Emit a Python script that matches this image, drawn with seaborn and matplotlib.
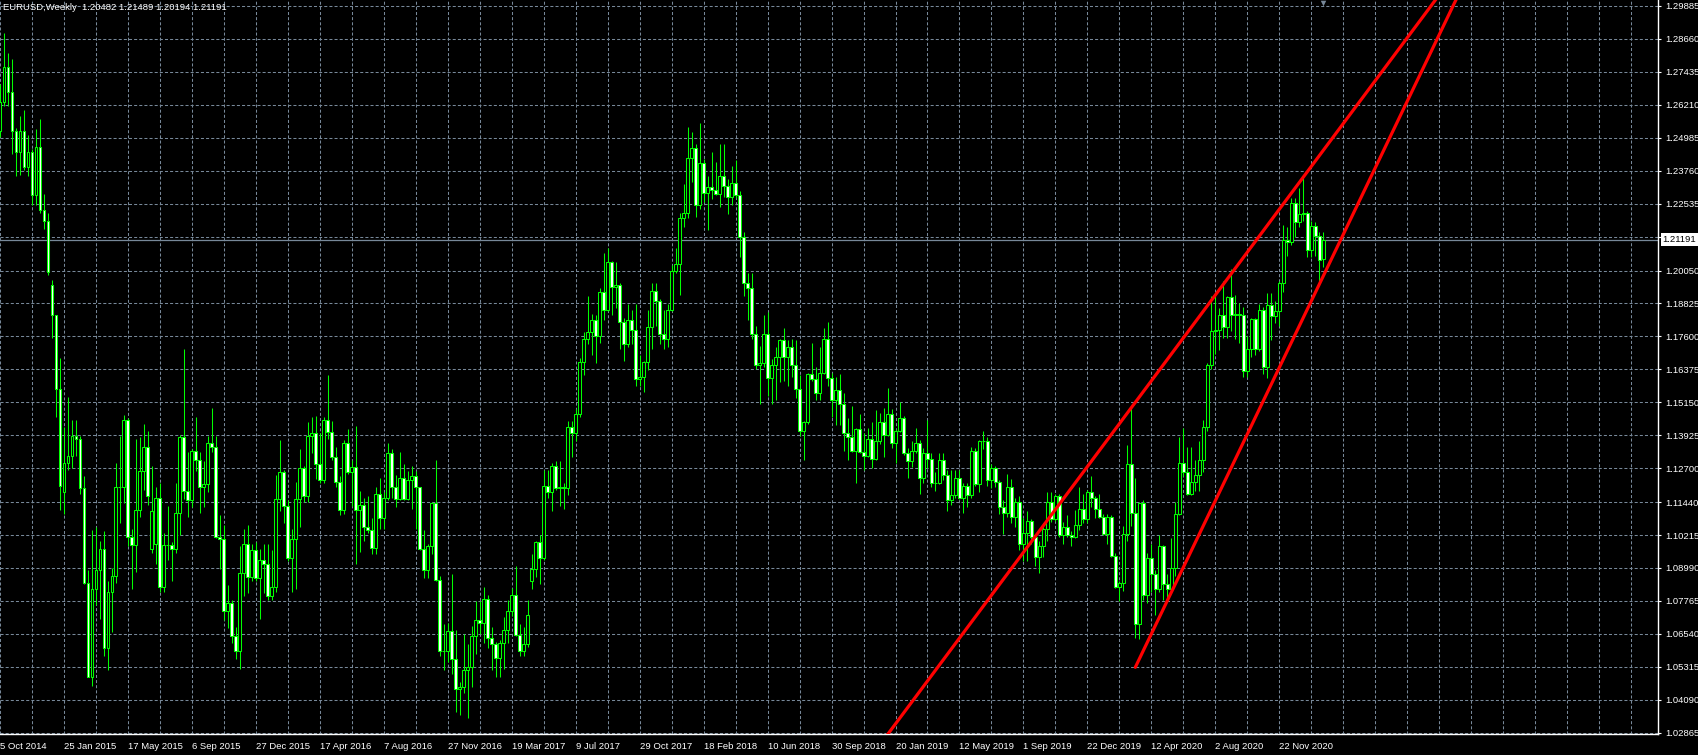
import numpy as np
import pandas as pd
import matplotlib
matplotlib.use("Agg")
import matplotlib.pyplot as plt
import matplotlib.transforms as mtransforms
import seaborn as sns

# EURUSD weekly bars, bar 0 = week of 5 Oct 2014, last bar = week of 7 Feb 2021
chart_title = "EURUSD,Weekly  1.20482 1.21489 1.20194 1.21191"

opens = [
    1.2525, 1.2630, 1.2760, 1.2670, 1.2525, 1.2445, 1.2525, 1.2390, 1.2445, 1.2285,
    1.2465, 1.2230, 1.2190, 1.1950, 1.1840, 1.1565, 1.1180, 1.1290, 1.1315, 1.1390,
    1.1380, 1.1195, 1.0845, 1.0495, 1.0820, 1.0890, 1.0970, 1.0600, 1.0810, 1.0870,
    1.1200, 1.1200, 1.1450, 1.1015, 1.0985, 1.1115, 1.1260, 1.1350, 1.0970, 1.0990,
    1.1160, 1.0830, 1.0985, 1.0985, 1.0970, 1.1105, 1.1385, 1.1185, 1.1150, 1.1335,
    1.1300, 1.1200, 1.1210, 1.1365, 1.1350, 1.1015, 1.1005, 1.0740, 1.0770, 1.0645,
    1.0590, 1.0880, 1.0990, 1.0865, 1.0965, 1.0860, 1.0930, 1.0915, 1.0795, 1.0830,
    1.1155, 1.1255, 1.1130, 1.0935, 1.1005, 1.1155, 1.1270, 1.1165, 1.1390, 1.1400,
    1.1285, 1.1225, 1.1450, 1.1405, 1.1310, 1.1220, 1.1115, 1.1365, 1.1255, 1.1275,
    1.1115, 1.1135, 1.1050, 1.1040, 1.0975, 1.1175, 1.1085, 1.1160, 1.1325, 1.1200,
    1.1155, 1.1235, 1.1155, 1.1225, 1.1240, 1.1200, 1.0970, 1.0890, 1.0980, 1.1140,
    1.0855, 1.0590, 1.0590, 1.0665, 1.0560, 1.0450, 1.0455, 1.0520, 1.0530, 1.0645,
    1.0705, 1.0695, 1.0785, 1.0640, 1.0615, 1.0565, 1.0620, 1.0670, 1.0740, 1.0800,
    1.0650, 1.0590, 1.0615, 1.0850, 1.0895, 1.0995, 1.0935, 1.1205, 1.1180, 1.1280,
    1.1195, 1.1200, 1.1195, 1.1425, 1.1400, 1.1470, 1.1665, 1.1750, 1.1775, 1.1820,
    1.1760, 1.1925, 1.1860, 1.2035, 1.1945, 1.1950, 1.1815, 1.1730, 1.1820, 1.1785,
    1.1600, 1.1610, 1.1665, 1.1795, 1.1930, 1.1890, 1.1770, 1.1750, 1.1860, 1.2005,
    1.2030, 1.2200, 1.2220, 1.2425, 1.2460, 1.2250, 1.2405, 1.2295, 1.2315, 1.2305,
    1.2290, 1.2355, 1.2320, 1.2280, 1.2330, 1.2285, 1.2130, 1.1960, 1.1940, 1.1770,
    1.1655, 1.1660, 1.1770, 1.1605, 1.1655, 1.1685, 1.1745, 1.1685, 1.1720, 1.1655,
    1.1565, 1.1410, 1.1440, 1.1620, 1.1600, 1.1550, 1.1625, 1.1750, 1.1605, 1.1525,
    1.1560, 1.1510, 1.1400, 1.1385, 1.1335, 1.1415, 1.1330, 1.1315, 1.1380, 1.1305,
    1.1370, 1.1440, 1.1395, 1.1470, 1.1365, 1.1410, 1.1455, 1.1325, 1.1295, 1.1335,
    1.1365, 1.1235, 1.1325, 1.1305, 1.1215, 1.1215, 1.1300, 1.1245, 1.1150, 1.1170,
    1.1235, 1.1160, 1.1205, 1.1170, 1.1335, 1.1210, 1.1370, 1.1370, 1.1225, 1.1270,
    1.1220, 1.1125, 1.1105, 1.1200, 1.1090, 1.1145, 1.0990, 1.1030, 1.1075, 1.1015,
    1.0940, 1.0980, 1.1045, 1.1145, 1.1080, 1.1165, 1.1020, 1.1050, 1.1020, 1.1015,
    1.1060, 1.1120, 1.1080, 1.1180, 1.1160, 1.1120, 1.1090, 1.1025, 1.1090, 1.0945,
    1.0830, 1.0845, 1.1025, 1.1285, 1.1105, 1.0690, 1.1140, 1.0800, 1.0935, 1.0875,
    1.0820, 1.0980, 1.0840, 1.0820, 1.0900, 1.1100, 1.1290, 1.1255, 1.1175, 1.1220,
    1.1245, 1.1300, 1.1425, 1.1655, 1.1780, 1.1785, 1.1840, 1.1795, 1.1905, 1.1840,
    1.1845, 1.1840, 1.1630, 1.1715, 1.1825, 1.1715, 1.1860, 1.1645, 1.1875, 1.1835,
    1.1855, 1.1960, 1.2120, 1.2110, 1.2255, 1.2185, 1.2215, 1.2220, 1.2080, 1.2170,
    1.2135, 1.20482,
]

highs = [
    1.2700, 1.2887, 1.2812, 1.2790, 1.2535, 1.2578, 1.2601, 1.2510, 1.2456, 1.2530,
    1.2570, 1.2290, 1.2220, 1.1970, 1.1840, 1.1680, 1.1425, 1.1535, 1.1450, 1.1450,
    1.1390, 1.1240, 1.0890, 1.1040, 1.1050, 1.1000, 1.1035, 1.0850, 1.0900, 1.1290,
    1.1390, 1.1467, 1.1455, 1.1045, 1.1380, 1.1385, 1.1436, 1.1410, 1.1280, 1.1200,
    1.1215, 1.1030, 1.1130, 1.0995, 1.1215, 1.1395, 1.1714, 1.1330, 1.1340, 1.1460,
    1.1330, 1.1295, 1.1390, 1.1495, 1.1390, 1.1095, 1.1060, 1.0835, 1.0780, 1.0680,
    1.0981, 1.1045, 1.1060, 1.0990, 1.0995, 1.0970, 1.0990, 1.0990, 1.0965, 1.1245,
    1.1375, 1.1265, 1.1150, 1.1045, 1.1220, 1.1340, 1.1280, 1.1440, 1.1460, 1.1465,
    1.1400, 1.1460, 1.1615, 1.1445, 1.1350, 1.1240, 1.1375, 1.1415, 1.1300, 1.1428,
    1.1185, 1.1160, 1.1165, 1.1085, 1.1200, 1.1235, 1.1180, 1.1365, 1.1340, 1.1245,
    1.1330, 1.1285, 1.1260, 1.1280, 1.1260, 1.1200, 1.1040, 1.0990, 1.1145, 1.1300,
    1.0870, 1.0690, 1.0695, 1.0875, 1.0670, 1.0475, 1.0655, 1.0615, 1.0685, 1.0775,
    1.0775, 1.0830, 1.0800, 1.0680, 1.0625, 1.0630, 1.0715, 1.0780, 1.0825, 1.0905,
    1.0690, 1.0680, 1.0780, 1.0950, 1.1000, 1.1020, 1.1265, 1.1265, 1.1290, 1.1295,
    1.1295, 1.1215, 1.1445, 1.1445, 1.1490, 1.1680, 1.1775, 1.1910, 1.1845, 1.1840,
    1.1940, 1.2070, 1.2090, 1.2040, 1.2035, 1.1960, 1.1830, 1.1880, 1.1860, 1.1880,
    1.1690, 1.1670, 1.1860, 1.1960, 1.1960, 1.1900, 1.1860, 1.1880, 1.2025, 1.2090,
    1.2220, 1.2325, 1.2537, 1.2520, 1.2475, 1.2555, 1.2420, 1.2355, 1.2445, 1.2410,
    1.2475, 1.2475, 1.2345, 1.2395, 1.2415, 1.2300, 1.2150, 1.1995, 1.1995, 1.1800,
    1.1725, 1.1840, 1.1850, 1.1675, 1.1720, 1.1750, 1.1790, 1.1745, 1.1750, 1.1745,
    1.1615, 1.1445, 1.1625, 1.1735, 1.1645, 1.1720, 1.1790, 1.1815, 1.1625, 1.1610,
    1.1620, 1.1550, 1.1455, 1.1500, 1.1420, 1.1470, 1.1400, 1.1420, 1.1440, 1.1485,
    1.1475, 1.1495, 1.1570, 1.1490, 1.1415, 1.1515, 1.1465, 1.1345, 1.1370, 1.1420,
    1.1375, 1.1345, 1.1450, 1.1325, 1.1255, 1.1325, 1.1325, 1.1265, 1.1265, 1.1265,
    1.1265, 1.1215, 1.1215, 1.1350, 1.1345, 1.1375, 1.1410, 1.1385, 1.1285, 1.1280,
    1.1225, 1.1150, 1.1250, 1.1230, 1.1160, 1.1165, 1.1085, 1.1110, 1.1080, 1.1025,
    1.1000, 1.1065, 1.1180, 1.1180, 1.1175, 1.1175, 1.1070, 1.1095, 1.1035, 1.1115,
    1.1200, 1.1175, 1.1190, 1.1240, 1.1165, 1.1175, 1.1100, 1.1100, 1.1095, 1.0955,
    1.0850, 1.1055, 1.1355, 1.1495, 1.1235, 1.1145, 1.1150, 1.0955, 1.0990, 1.0890,
    1.1020, 1.0985, 1.0875, 1.1010, 1.1145, 1.1385, 1.1420, 1.1350, 1.1350, 1.1300,
    1.1370, 1.1450, 1.1660, 1.1910, 1.1915, 1.1865, 1.1965, 1.1910, 1.2010, 1.1915,
    1.1885, 1.1870, 1.1760, 1.1830, 1.1830, 1.1880, 1.1870, 1.1920, 1.1920, 1.1890,
    1.1965, 1.2175, 1.2165, 1.2275, 1.2275, 1.2310, 1.2350, 1.2225, 1.2190, 1.2185,
    1.2150, 1.21489,
]

lows = [
    1.2500, 1.2615, 1.2615, 1.2440, 1.2357, 1.2360, 1.2380, 1.2355, 1.2247, 1.2250,
    1.2220, 1.2160, 1.1990, 1.1755, 1.1460, 1.1115, 1.1098, 1.1265, 1.1270, 1.1315,
    1.1175, 1.0840, 1.0495, 1.0462, 1.0760, 1.0710, 1.0570, 1.0520, 1.0660, 1.0845,
    1.1065, 1.1140, 1.0980, 1.0820, 1.0885, 1.1090, 1.1190, 1.1135, 1.0955, 1.0915,
    1.0810, 1.0810, 1.0930, 1.0850, 1.0955, 1.1020, 1.1155, 1.1090, 1.1125, 1.1260,
    1.1105, 1.1125, 1.1180, 1.1330, 1.1010, 1.0895, 1.0705, 1.0675, 1.0620, 1.0560,
    1.0525, 1.0795, 1.0805, 1.0850, 1.0850, 1.0710, 1.0805, 1.0780, 1.0780, 1.0810,
    1.1110, 1.1065, 1.0925, 1.0810, 1.0820, 1.1050, 1.1145, 1.1145, 1.1325, 1.1230,
    1.1215, 1.1215, 1.1380, 1.1300, 1.1200, 1.1095, 1.1100, 1.1250, 1.1130, 1.0912,
    1.0960, 1.1000, 1.1030, 1.0950, 1.0950, 1.1045, 1.1045, 1.1150, 1.1160, 1.1125,
    1.1150, 1.1150, 1.1150, 1.1120, 1.1045, 1.0965, 1.0860, 1.0860, 1.0950, 1.0850,
    1.0570, 1.0520, 1.0550, 1.0505, 1.0365, 1.0352, 1.0435, 1.0340, 1.0455, 1.0580,
    1.0655, 1.0620, 1.0600, 1.0520, 1.0495, 1.0495, 1.0525, 1.0620, 1.0720, 1.0645,
    1.0570, 1.0570, 1.0605, 1.0820, 1.0865, 1.0840, 1.0930, 1.1160, 1.1110, 1.1190,
    1.1130, 1.1120, 1.1170, 1.1310, 1.1370, 1.1460, 1.1615, 1.1730, 1.1690, 1.1660,
    1.1735, 1.1820, 1.1855, 1.1840, 1.1865, 1.1715, 1.1670, 1.1720, 1.1730, 1.1575,
    1.1575, 1.1555, 1.1635, 1.1715, 1.1800, 1.1730, 1.1715, 1.1720, 1.1855, 1.1995,
    1.1915, 1.2165, 1.2200, 1.2335, 1.2205, 1.2235, 1.2260, 1.2155, 1.2270, 1.2285,
    1.2240, 1.2280, 1.2215, 1.2250, 1.2275, 1.2055, 1.1910, 1.1820, 1.1750, 1.1640,
    1.1510, 1.1645, 1.1540, 1.1510, 1.1525, 1.1590, 1.1595, 1.1575, 1.1610, 1.1530,
    1.1390, 1.1301, 1.1435, 1.1595, 1.1525, 1.1525, 1.1620, 1.1575, 1.1460, 1.1430,
    1.1430, 1.1335, 1.1300, 1.1330, 1.1215, 1.1325, 1.1265, 1.1310, 1.1270, 1.1300,
    1.1360, 1.1310, 1.1390, 1.1345, 1.1290, 1.1405, 1.1320, 1.1235, 1.1275, 1.1325,
    1.1175, 1.1215, 1.1270, 1.1200, 1.1185, 1.1210, 1.1225, 1.1110, 1.1135, 1.1160,
    1.1155, 1.1105, 1.1125, 1.1160, 1.1205, 1.1180, 1.1340, 1.1205, 1.1195, 1.1200,
    1.1100, 1.1025, 1.1090, 1.1065, 1.1050, 1.0965, 1.0925, 1.0925, 1.0990, 1.0905,
    1.0880, 1.0940, 1.1000, 1.1070, 1.1075, 1.1015, 1.0990, 1.1015, 1.0980, 1.1010,
    1.1040, 1.1065, 1.1065, 1.1125, 1.1085, 1.1085, 1.1020, 1.0990, 1.0940, 1.0825,
    1.0778, 1.0815, 1.1000, 1.1055, 1.0640, 1.0635, 1.0780, 1.0770, 1.0810, 1.0725,
    1.0810, 1.0780, 1.0775, 1.0810, 1.0870, 1.1095, 1.1240, 1.1170, 1.1170, 1.1185,
    1.1185, 1.1255, 1.1410, 1.1640, 1.1695, 1.1710, 1.1755, 1.1755, 1.1780, 1.1750,
    1.1735, 1.1610, 1.1610, 1.1685, 1.1690, 1.1705, 1.1620, 1.1605, 1.1745, 1.1810,
    1.1800, 1.1925, 1.2060, 1.2100, 1.2130, 1.2165, 1.2190, 1.2055, 1.2055, 1.2060,
    1.1952, 1.20194,
]

closes = [
    1.2630, 1.2760, 1.2670, 1.2525, 1.2445, 1.2525, 1.2390, 1.2445, 1.2285, 1.2465,
    1.2230, 1.2190, 1.2000, 1.1840, 1.1565, 1.1205, 1.1290, 1.1315, 1.1390, 1.1380,
    1.1195, 1.0845, 1.0495, 1.0820, 1.0890, 1.0970, 1.0600, 1.0810, 1.0870, 1.1200,
    1.1200, 1.1450, 1.1015, 1.0985, 1.1115, 1.1260, 1.1350, 1.1165, 1.1110, 1.1160,
    1.0830, 1.0985, 1.0985, 1.0970, 1.1105, 1.1385, 1.1185, 1.1150, 1.1335, 1.1300,
    1.1200, 1.1210, 1.1365, 1.1350, 1.1015, 1.1005, 1.0740, 1.0770, 1.0645, 1.0590,
    1.0880, 1.0990, 1.0865, 1.0965, 1.0860, 1.0930, 1.0915, 1.0795, 1.0830, 1.1155,
    1.1255, 1.1130, 1.0935, 1.1005, 1.1155, 1.1270, 1.1165, 1.1390, 1.1400, 1.1285,
    1.1225, 1.1450, 1.1405, 1.1310, 1.1220, 1.1115, 1.1365, 1.1255, 1.1275, 1.1115,
    1.1135, 1.1050, 1.1040, 1.0975, 1.1175, 1.1085, 1.1160, 1.1325, 1.1200, 1.1155,
    1.1235, 1.1155, 1.1225, 1.1240, 1.1200, 1.0970, 1.0890, 1.0980, 1.1140, 1.0855,
    1.0590, 1.0590, 1.0665, 1.0560, 1.0450, 1.0455, 1.0520, 1.0530, 1.0645, 1.0705,
    1.0695, 1.0785, 1.0640, 1.0615, 1.0565, 1.0620, 1.0670, 1.0740, 1.0800, 1.0650,
    1.0590, 1.0615, 1.0725, 1.0895, 1.0995, 1.0935, 1.1205, 1.1180, 1.1280, 1.1195,
    1.1200, 1.1195, 1.1425, 1.1400, 1.1470, 1.1665, 1.1750, 1.1775, 1.1820, 1.1760,
    1.1925, 1.1860, 1.2035, 1.1945, 1.1950, 1.1815, 1.1730, 1.1820, 1.1785, 1.1600,
    1.1610, 1.1665, 1.1795, 1.1930, 1.1890, 1.1770, 1.1750, 1.1860, 1.2005, 1.2030,
    1.2200, 1.2220, 1.2425, 1.2460, 1.2250, 1.2405, 1.2295, 1.2315, 1.2305, 1.2290,
    1.2355, 1.2320, 1.2280, 1.2330, 1.2285, 1.2130, 1.1960, 1.1940, 1.1770, 1.1655,
    1.1660, 1.1770, 1.1605, 1.1655, 1.1685, 1.1745, 1.1685, 1.1720, 1.1655, 1.1565,
    1.1410, 1.1440, 1.1620, 1.1600, 1.1550, 1.1625, 1.1750, 1.1605, 1.1525, 1.1560,
    1.1510, 1.1400, 1.1385, 1.1335, 1.1415, 1.1330, 1.1315, 1.1380, 1.1305, 1.1370,
    1.1440, 1.1395, 1.1470, 1.1365, 1.1410, 1.1455, 1.1325, 1.1295, 1.1335, 1.1365,
    1.1235, 1.1325, 1.1305, 1.1215, 1.1215, 1.1300, 1.1245, 1.1150, 1.1170, 1.1235,
    1.1160, 1.1205, 1.1170, 1.1335, 1.1210, 1.1370, 1.1370, 1.1225, 1.1270, 1.1220,
    1.1125, 1.1105, 1.1200, 1.1090, 1.1145, 1.0990, 1.1030, 1.1075, 1.1015, 1.0940,
    1.0980, 1.1045, 1.1145, 1.1080, 1.1165, 1.1020, 1.1050, 1.1020, 1.1015, 1.1060,
    1.1120, 1.1080, 1.1180, 1.1160, 1.1120, 1.1090, 1.1025, 1.1090, 1.0945, 1.0830,
    1.0845, 1.1025, 1.1285, 1.1105, 1.0690, 1.1140, 1.0800, 1.0935, 1.0875, 1.0820,
    1.0980, 1.0840, 1.0820, 1.0900, 1.1100, 1.1290, 1.1255, 1.1175, 1.1220, 1.1245,
    1.1300, 1.1425, 1.1655, 1.1780, 1.1785, 1.1840, 1.1795, 1.1905, 1.1840, 1.1845,
    1.1840, 1.1630, 1.1715, 1.1825, 1.1715, 1.1860, 1.1645, 1.1875, 1.1835, 1.1855,
    1.1960, 1.2120, 1.2110, 1.2255, 1.2185, 1.2215, 1.2220, 1.2080, 1.2170, 1.2135,
    1.2045, 1.21191,
]

date_label_bars = [0, 16, 32, 48, 64, 80, 96, 112, 128, 144, 160,
                   176, 192, 208, 224, 240, 256, 272, 288, 304, 320]
date_labels = ["5 Oct 2014", "25 Jan 2015", "17 May 2015", "6 Sep 2015", "27 Dec 2015",
               "17 Apr 2016", "7 Aug 2016", "27 Nov 2016", "19 Mar 2017", "9 Jul 2017",
               "29 Oct 2017", "18 Feb 2018", "10 Jun 2018", "30 Sep 2018", "20 Jan 2019",
               "12 May 2019", "1 Sep 2019", "22 Dec 2019", "12 Apr 2020", "2 Aug 2020",
               "22 Nov 2020"]

price_labels = ["1.29885", "1.28660", "1.27435", "1.26210", "1.24985", "1.23760",
                "1.22535", "1.21310", "1.20050", "1.18825", "1.17600", "1.16375",
                "1.15150", "1.13925", "1.12700", "1.11440", "1.10215", "1.08990",
                "1.07765", "1.06540", "1.05315", "1.04090", "1.02865"]
last_price = 1.21191
last_bar = 331

# hand drawn trend lines (bar index, price)
upper_line_bars = [215.0, 365.0]
upper_line_prices = [1.01401, 1.31294]
lower_line_bars = [283.98, 367.0]
lower_line_prices = [1.05297, 1.30984]

df = pd.DataFrame({"open": opens, "high": highs, "low": lows, "close": closes})
df["bar"] = np.arange(len(df))

LIME = "#00ff00"
GRID = "#778899"
DASH = (0, (2.2, 1.5))

sns.set_theme(style="dark", rc={
    "axes.facecolor": "black",
    "figure.facecolor": "black",
    "savefig.facecolor": "black",
    "axes.edgecolor": "white",
    "xtick.color": "white",
    "ytick.color": "white",
})
plt.rcParams["font.family"] = ["Liberation Sans", "DejaVu Sans"]
plt.rcParams["lines.scale_dashes"] = False

fig = plt.figure(figsize=(16.99, 7.55), dpi=100)
ax = fig.add_axes([0, 20.7 / 755, 1658.5 / 1699, 734.3 / 755])
ax.set_xlim(0.225, 414.85)
ax.set_ylim(1.02806, 1.30108)

# grid
price_ticks = [float(p) for p in price_labels]
for p in price_ticks:
    ax.axhline(p, color=GRID, lw=0.75, ls=DASH, zorder=0.5)
for b in range(0, 416, 8):
    ax.axvline(b, color=GRID, lw=0.75, ls=DASH, zorder=0.5)
ax.axhline(last_price, color=GRID, lw=0.9, zorder=0.6)

# candles
up = df["close"] >= df["open"]
ax.vlines(df["bar"], df["low"], df["high"], color=LIME, lw=0.75, zorder=2)
body_bottom = np.minimum(df["open"], df["close"])
body_height = (df["close"] - df["open"]).abs()
ax.bar(df["bar"], body_height, bottom=body_bottom, width=0.72,
       color=np.where(up, "black", "white"), edgecolor=LIME, linewidth=0.75, zorder=3)

# trend lines
sns.lineplot(x=upper_line_bars, y=upper_line_prices, color="red", lw=2.3, ax=ax, zorder=4)
sns.lineplot(x=lower_line_bars, y=lower_line_prices, color="red", lw=2.3, ax=ax, zorder=4)

# chart shift marker at the top, above the last bar
top_trans = mtransforms.blended_transform_factory(ax.transData, ax.transAxes)
ax.scatter([last_bar], [1 - 2.5 / 734.3], transform=top_trans, marker="v", s=16,
           color=GRID, linewidths=0, clip_on=False, zorder=5)

# axes / ticks
ax.yaxis.tick_right()
ax.set_yticks(price_ticks)
# the 1.21310 label sits under the last price box
ax.set_yticklabels(["" if p == "1.21310" else p for p in price_labels])
ax.set_xticks(date_label_bars)
ax.set_xticklabels(date_labels, ha="left")
ax.tick_params(axis="both", colors="white", labelcolor="white", labelsize=6.8,
               length=2.5, width=0.8, direction="out", pad=2.5)
ax.tick_params(axis="x", pad=3)
ax.set_xlabel("")
ax.set_ylabel("")
for side in ["top", "left"]:
    ax.spines[side].set_visible(False)
for side in ["right", "bottom"]:
    ax.spines[side].set_color("white")
    ax.spines[side].set_linewidth(1.0)
ax.grid(False)

fig.text(3 / 1699, 1 - 7 / 755, chart_title, color="white", fontsize=6.8,
         ha="left", va="center")

trans = mtransforms.blended_transform_factory(ax.transAxes, ax.transData)
ax.text(1.0 + 4 / 1658.5, last_price, "1.21191", transform=trans, color="black",
        fontsize=6.8, ha="left", va="center", clip_on=False, zorder=10,
        bbox=dict(boxstyle="square,pad=0.2", fc="white", ec="none"))

fig.savefig("out.png", dpi=100, facecolor="black")
